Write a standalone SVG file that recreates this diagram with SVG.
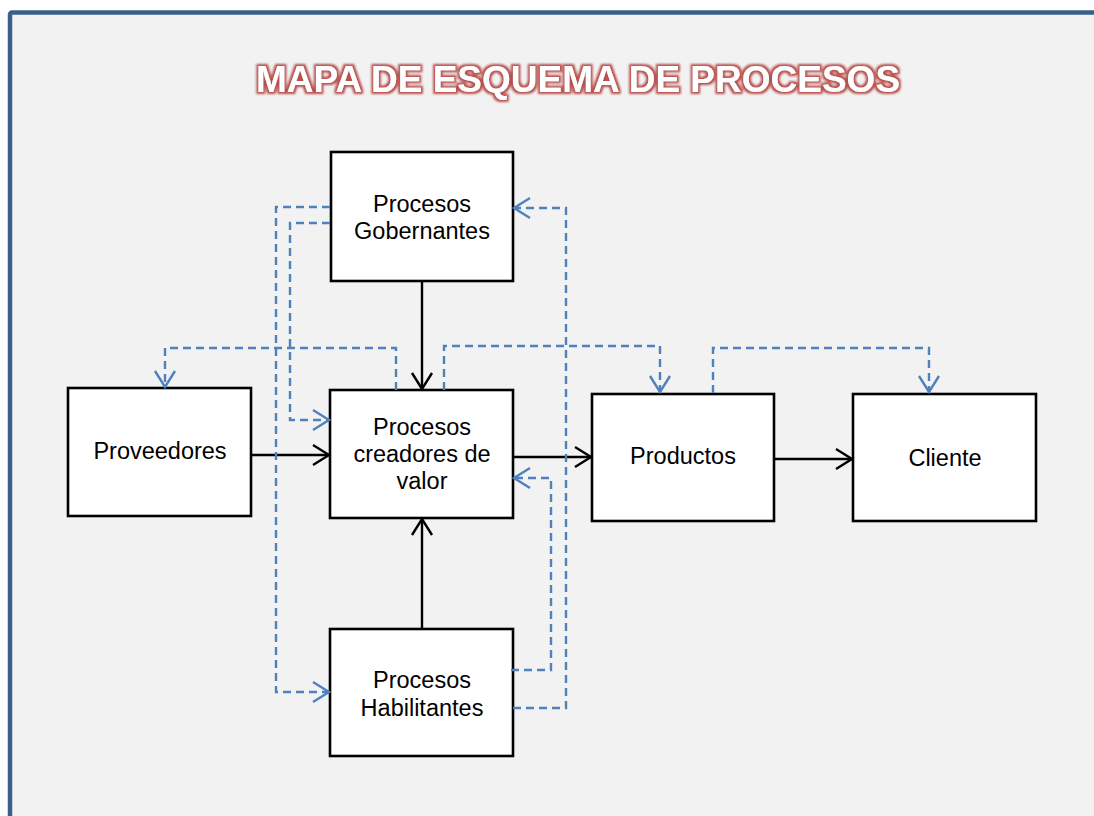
<svg xmlns="http://www.w3.org/2000/svg" width="1094" height="816" viewBox="0 0 1094 816">
  <style>
    .box { fill: #ffffff; stroke: #000000; stroke-width: 2.6; }
    .lbl { font-family: "Liberation Sans", Arial, sans-serif; font-size: 23.5px; fill: #000000; text-anchor: middle; }
    .solid { fill: none; stroke: #000000; stroke-width: 2.4; }
    .dash { fill: none; stroke: #4f81bd; stroke-width: 2.4; stroke-dasharray: 8 5; }
    .title { font-family: "Liberation Sans", Arial, sans-serif; font-weight: bold; font-size: 37px; fill: #ffffff; text-anchor: middle; }
  </style>
  <defs>
    <marker id="arrowBlack" markerUnits="userSpaceOnUse" markerWidth="24" markerHeight="24" viewBox="-18 -12 20 24" refX="0" refY="0" orient="auto">
      <path d="M-16 -10 L0 0 L-16 10" fill="none" stroke="#000000" stroke-width="2.4"/>
    </marker>
    <marker id="arrowBlue" markerUnits="userSpaceOnUse" markerWidth="24" markerHeight="24" viewBox="-18 -12 20 24" refX="0" refY="0" orient="auto">
      <path d="M-16 -10 L0 0 L-16 10" fill="none" stroke="#4f81bd" stroke-width="2.4"/>
    </marker>
    <filter id="glow" x="-5%" y="-30%" width="110%" height="160%">
      <feMorphology in="SourceAlpha" operator="dilate" radius="2" result="thick"/>
      <feGaussianBlur in="thick" stdDeviation="1.3" result="soft"/>
      <feFlood flood-color="#b94f4c"/>
      <feComposite in2="soft" operator="in" result="halo"/>
      <feMerge>
        <feMergeNode in="halo"/>
        <feMergeNode in="SourceGraphic"/>
      </feMerge>
    </filter>
  </defs>

  <!-- page and frame -->
  <rect x="0" y="0" width="1094" height="816" fill="#ffffff"/>
  <rect x="10" y="12.5" width="1100" height="820" rx="2" fill="#f2f2f2" stroke="#3a5f8d" stroke-width="4.5"/>

  <text class="title" x="578" y="92" filter="url(#glow)">MAPA DE ESQUEMA DE PROCESOS</text>

  <g id="gobernantes">
    <rect class="box" x="331" y="152" width="182" height="129"/>
    <text class="lbl" x="422" y="212">Procesos</text>
    <text class="lbl" x="422" y="239">Gobernantes</text>
  </g>
  <g id="creadores">
    <rect class="box" x="330" y="390" width="183" height="128"/>
    <text class="lbl" x="422" y="435">Procesos</text>
    <text class="lbl" x="422" y="462">creadores de</text>
    <text class="lbl" x="422" y="489">valor</text>
  </g>
  <g id="proveedores">
    <rect class="box" x="68" y="388" width="183" height="128"/>
    <text class="lbl" x="160" y="459">Proveedores</text>
  </g>
  <g id="productos">
    <rect class="box" x="592" y="394" width="182" height="127"/>
    <text class="lbl" x="683" y="464">Productos</text>
  </g>
  <g id="cliente">
    <rect class="box" x="853" y="394" width="183" height="127"/>
    <text class="lbl" x="945" y="466">Cliente</text>
  </g>
  <g id="habilitantes">
    <rect class="box" x="330" y="629" width="183" height="127"/>
    <text class="lbl" x="422" y="688">Procesos</text>
    <text class="lbl" x="422" y="716">Habilitantes</text>
  </g>

  <g id="connectors">
    <!-- main flow -->
    <path class="solid" d="M422 281 V389" marker-end="url(#arrowBlack)"/>
    <path class="solid" d="M422 628 V519" marker-end="url(#arrowBlack)"/>
    <path class="solid" d="M251 455 H329" marker-end="url(#arrowBlack)"/>
    <path class="solid" d="M513 457 H591" marker-end="url(#arrowBlack)"/>
    <path class="solid" d="M774 459 H852" marker-end="url(#arrowBlack)"/>
    <!-- feedback and control links -->
    <path class="dash" d="M330 207 H276 V692 H329" marker-end="url(#arrowBlue)"/>
    <path class="dash" d="M330 223 H290 V420 H329" marker-end="url(#arrowBlue)"/>
    <path class="dash" d="M396 390 V348 H165 V387" marker-end="url(#arrowBlue)"/>
    <path class="dash" d="M444 390 V346 H660 V392" marker-end="url(#arrowBlue)"/>
    <path class="dash" d="M513 708 H566 V208 H514" marker-end="url(#arrowBlue)"/>
    <path class="dash" d="M511 670 H551 V478 H514" marker-end="url(#arrowBlue)"/>
    <path class="dash" d="M713 393 V348 H929 V392" marker-end="url(#arrowBlue)"/>
  </g>
</svg>
